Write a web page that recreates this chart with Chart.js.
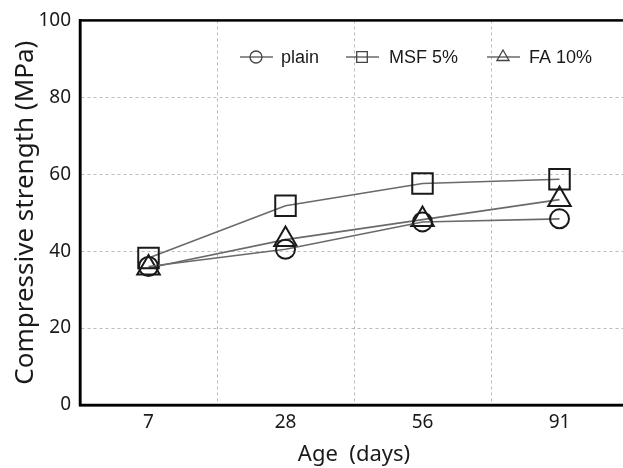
<!DOCTYPE html>
<html>
<head>
<meta charset="utf-8">
<script src="https://cdn.jsdelivr.net/npm/chart.js@4.4.1/dist/chart.umd.min.js"></script>
<style>
  html, body { margin: 0; padding: 0; background: #fff; overflow: hidden; }
  #wrap { position: relative; width: 623px; height: 468px; overflow: hidden; }
  #c { position: absolute; left: 0; top: 0; }
</style>
</head>
<body>
<div id="wrap"><canvas id="c" width="632" height="468"></canvas></div>
<script>
"use strict";

// 재령(일) 카테고리와 시리즈별 압축강도 (MPa)
const AGES = ["7", "28", "56", "91"];
const PLAIN = [36.0, 40.5, 47.6, 48.4];
const MSF5 = [38.2, 51.8, 57.6, 58.7];
const FA10 = [35.6, 43.0, 48.2, 53.4];
const Y_TICKS = [0, 20, 40, 60, 80, 100];

const FONT = "'Noto Sans', 'Liberation Sans', sans-serif";
const LEGEND_FONT = "'Liberation Sans', Arial, sans-serif";
const LINE = "#6a6a6a";
const INK = "#1a1a1a";
const GRID = "#bcbcbc";

function series(label, data, style, radius, legendRadius) {
  return {
    label,
    data,
    borderColor: LINE,
    borderWidth: 1.6,
    pointStyle: style,
    pointRadius: radius,
    pointBorderColor: INK,
    pointBorderWidth: 2,
    pointBackgroundColor: "rgba(0,0,0,0)",
    legendRadius,
    tension: 0,
    fill: false,
  };
}

// 외곽 테두리 (오른쪽은 화면 밖)
const framePlugin = {
  id: "frame",
  afterDraw(chart) {
    const { ctx, chartArea: a } = chart;
    ctx.save();
    ctx.strokeStyle = "#000";
    ctx.lineWidth = 2.5;
    ctx.strokeRect(a.left, a.top, a.right - a.left, a.bottom - a.top);
    ctx.restore();
  },
};

// 선+마커 형태의 범례 (그래프 안쪽 상단)
const legendPlugin = {
  id: "lineLegend",
  afterDraw(chart) {
    const { ctx } = chart;
    const y = 57;
    const items = [
      { x: 240, tx: 281 },
      { x: 346, tx: 389 },
      { x: 487, tx: 529 },
    ];
    ctx.save();
    ctx.font = `18px ${LEGEND_FONT}`;
    ctx.textBaseline = "middle";
    chart.data.datasets.forEach((ds, i) => {
      const it = items[i];
      ctx.strokeStyle = LINE;
      ctx.lineWidth = 1.6;
      ctx.beginPath();
      ctx.moveTo(it.x, y);
      ctx.lineTo(it.x + 33, y);
      ctx.stroke();
      ctx.strokeStyle = "#444";
      ctx.fillStyle = "rgba(0,0,0,0)";
      ctx.lineWidth = 1.3;
      Chart.helpers.drawPoint(ctx, {
        pointStyle: ds.pointStyle,
        radius: ds.legendRadius,
        rotation: 0,
        borderWidth: 1.3,
      }, it.x + 16, y);
      ctx.fillStyle = INK;
      ctx.fillText(ds.label, it.tx, y + 1);
    });
    ctx.restore();
  },
};

new Chart(document.getElementById("c"), {
  type: "line",
  data: {
    labels: AGES,
    datasets: [
      series("plain", PLAIN, "circle", 9.5, 6),
      series("MSF 5%", MSF5, "rect", 14.5, 7.5),
      series("FA 10%", FA10, "triangle", 13, 7),
    ],
  },
  options: {
    responsive: false,
    animation: false,
    layout: { autoPadding: false, padding: { top: 15, right: 4, left: 0, bottom: 0 } },
    plugins: {
      legend: { display: false },
      tooltip: { enabled: false },
    },
    scales: {
      x: {
        offset: true,
        grid: { offset: true, color: GRID, lineWidth: 1, drawTicks: false },
        border: { display: true, color: "#000", width: 2.5, dash: [3, 3] },
        ticks: { color: INK, font: { family: FONT, size: 19 }, padding: 6 },
        title: {
          display: true,
          text: "Age  (days)",
          color: INK,
          font: { family: FONT, size: 22 },
          padding: { top: 0, bottom: 0 },
        },
        afterFit(s) { s.height = 63; },
      },
      y: {
        min: 0,
        max: 100,
        afterBuildTicks(s) { s.ticks = Y_TICKS.map((v) => ({ value: v })); },
        grid: { color: GRID, lineWidth: 1, drawTicks: false },
        border: { display: true, color: "#000", width: 2.5, dash: [3, 3] },
        ticks: { color: INK, font: { family: FONT, size: 19 }, padding: 9 },
        title: {
          display: true,
          text: "Compressive strength (MPa)",
          color: INK,
          font: { family: FONT, size: 26 },
          padding: { top: 10, bottom: 0 },
        },
        afterFit(s) { s.width = 80; },
      },
    },
  },
  plugins: [framePlugin, legendPlugin],
});
</script>
</body>
</html>
